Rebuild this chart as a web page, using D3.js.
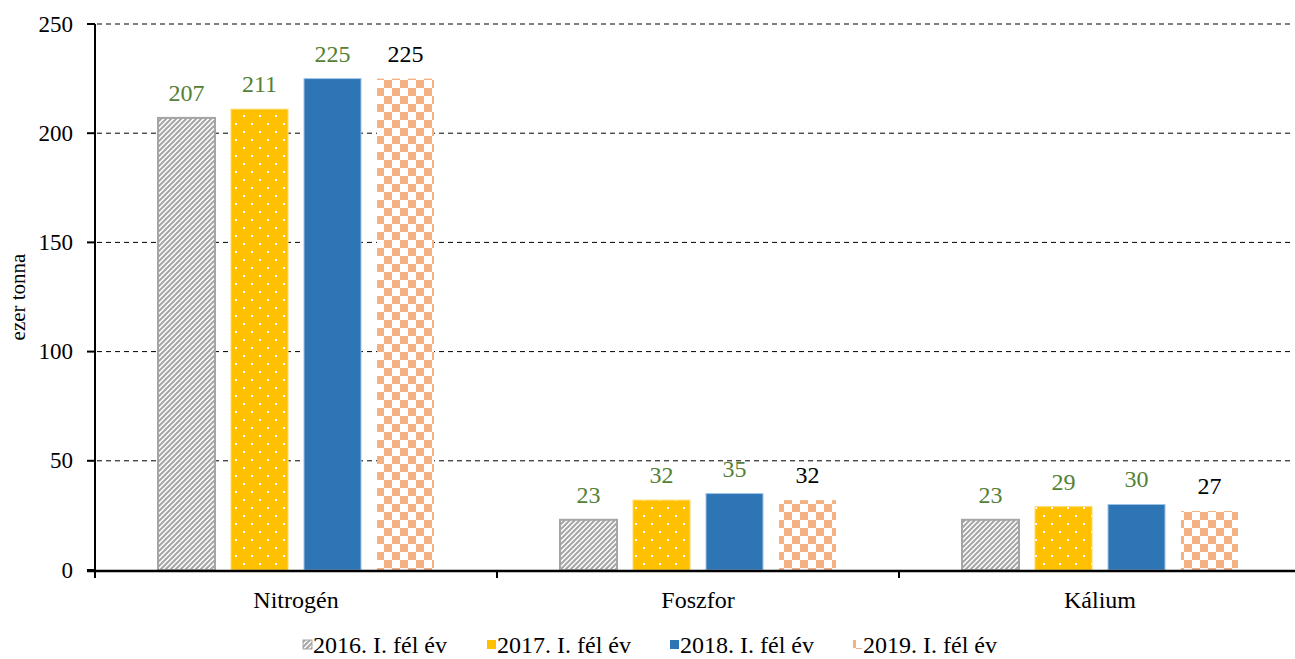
<!DOCTYPE html>
<html><head><meta charset="utf-8">
<script src="https://cdn.jsdelivr.net/npm/d3@7"></script>
<style>body{margin:0;background:#fff}svg{display:block}</style>
</head><body>
<svg id="c" width="1295" height="659" font-family="'Liberation Serif', 'Times New Roman', Times, serif"></svg>
<script>
const categories = ["Nitrogén", "Foszfor", "Kálium"];
const seriesNames = ["2016. I. fél év", "2017. I. fél év", "2018. I. fél év", "2019. I. fél év"];
const v2016 = [207, 23, 23];
const v2017 = [211, 32, 29];
const v2018 = [225, 35, 30];
const v2019 = [225, 32, 27];
const yTicks = [0, 50, 100, 150, 200, 250];
const yTitle = "ezer tonna";

const seriesValues = [v2016, v2017, v2018, v2019];
const svg = d3.select("#c");
const defs = svg.append("defs");

// patterns
const p1 = defs.append("pattern").attr("id","p2016").attr("patternUnits","userSpaceOnUse").attr("width",5).attr("height",5);
p1.append("rect").attr("width",5).attr("height",5).attr("fill","#fff");
p1.append("path").attr("d","M0,5 L5,0 M-1,1 L1,-1 M4,6 L6,4").attr("stroke","#A5A5A5").attr("stroke-width",2);

const p2 = defs.append("pattern").attr("id","p2017").attr("patternUnits","userSpaceOnUse").attr("width",16).attr("height",16);
p2.append("rect").attr("width",16).attr("height",16).attr("fill","#FFC000");
p2.append("rect").attr("x",3).attr("y",3).attr("width",2).attr("height",2).attr("fill","#fff");
p2.append("rect").attr("x",11).attr("y",11).attr("width",2).attr("height",2).attr("fill","#fff");

const p4 = defs.append("pattern").attr("id","p2019").attr("patternUnits","userSpaceOnUse").attr("width",16).attr("height",16);
p4.append("rect").attr("width",16).attr("height",16).attr("fill","#fff");
p4.append("rect").attr("x",0).attr("y",0).attr("width",8).attr("height",8).attr("fill","#F4B183");
p4.append("rect").attr("x",8).attr("y",8).attr("width",8).attr("height",8).attr("fill","#F4B183");

const fills = ["url(#p2016)", "url(#p2017)", "#2E75B6", "url(#p2019)"];
const strokes = ["#A5A5A5", "#FFD966", "#9DC3E6", "none"];
const strokeW = [2, 1, 1, 0];
const labelColors = ["#538135", "#538135", "#538135", "#000"];

const x0 = d3.scaleBand().domain(categories).range([95, 1301]).padding(0);
const x1 = d3.scaleBand().domain(seriesNames).range([63, 339]).paddingInner(16/73).paddingOuter(0);
const y = d3.scaleLinear().domain([0, 250]).range([570, 24]);

// gridlines
svg.append("g").selectAll("line").data(yTicks.filter(d => d > 0)).join("line")
  .attr("x1", 97).attr("x2", 1293).attr("y1", d => y(d)).attr("y2", d => y(d))
  .attr("stroke", "#000").attr("stroke-width", 1).attr("stroke-dasharray", "5,4");

// bars
const g = svg.append("g");
categories.forEach((cat, ci) => {
  seriesNames.forEach((s, si) => {
    const val = seriesValues[si][ci];
    const bx = x0(cat) + x1(s);
    g.append("rect").attr("x", bx).attr("y", y(val)).attr("width", x1.bandwidth()).attr("height", y(0) - y(val))
      .attr("fill", fills[si]).attr("stroke", strokes[si]).attr("stroke-width", strokeW[si]);
    g.append("text").attr("x", bx + x1.bandwidth()/2).attr("y", y(val) - 17).attr("text-anchor", "middle")
      .attr("font-size", 24).attr("fill", labelColors[si]).text(val);
  });
});

// y axis
const yAxis = svg.append("g");
yAxis.append("line").attr("x1", 95).attr("x2", 95).attr("y1", y(250)).attr("y2", y(0) + 8).attr("stroke", "#000").attr("stroke-width", 2);
yAxis.selectAll("line.t").data(yTicks).join("line").attr("class","t")
  .attr("x1", 87).attr("x2", 95).attr("y1", d => y(d)).attr("y2", d => y(d)).attr("stroke", "#000").attr("stroke-width", 2);
yAxis.selectAll("text").data(yTicks).join("text")
  .attr("x", 73).attr("y", d => y(d)).attr("dy", "0.33em").attr("text-anchor", "end").attr("font-size", 23).text(d => d);

// x axis
const xAxis = svg.append("g");
xAxis.append("line").attr("x1", 87).attr("x2", 1301).attr("y1", y(0) + 1).attr("y2", y(0) + 1).attr("stroke", "#000").attr("stroke-width", 2.5);
const bounds = categories.map(c => x0(c)).concat([x0(categories[categories.length-1]) + x0.bandwidth()]);
xAxis.selectAll("line.t").data(bounds).join("line").attr("class","t")
  .attr("x1", d => d).attr("x2", d => d).attr("y1", y(0)).attr("y2", y(0) + 8).attr("stroke", "#000").attr("stroke-width", 2);
xAxis.selectAll("text").data(categories).join("text")
  .attr("x", d => x0(d) + x0.bandwidth()/2).attr("y", 608).attr("text-anchor", "middle").attr("font-size", 24).text(d => d);

// y title
svg.append("text").attr("transform", `translate(25,${(y(0)+y(250))/2}) rotate(-90)`).attr("text-anchor", "middle")
  .attr("font-size", 21).text(yTitle);

// legend
const legX = [303, 487, 670, 853];
const leg = svg.append("g");
seriesNames.forEach((s, si) => {
  leg.append("rect").attr("x", legX[si]).attr("y", 640).attr("width", 9).attr("height", 9)
    .attr("fill", fills[si]).attr("stroke", si === 0 ? "#A5A5A5" : "none").attr("stroke-width", 1);
  leg.append("text").attr("x", legX[si] + 10).attr("y", 653).attr("font-size", 24).text(s);
});
</script>
</body></html>
